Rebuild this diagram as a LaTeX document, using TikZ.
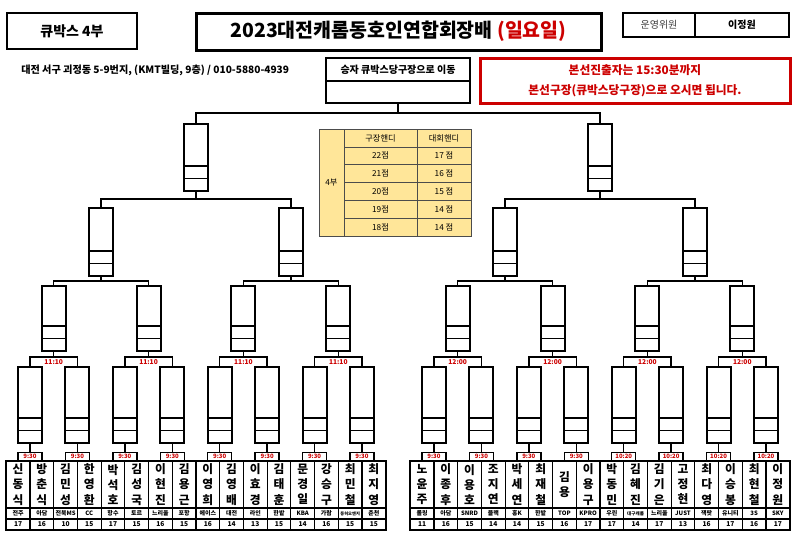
\documentclass[tikz,border=0pt]{standalone}
\usepackage{fontspec}
\setmainfont{Noto Sans CJK KR}
\definecolor{redc}{RGB}{204,0,0}
\definecolor{yel}{RGB}{255,230,153}
\newcommand\fs[2]{\fontsize{#1}{#2}\selectfont}
\newcommand\brk[4]{\draw[conn] (#1.south) -- ++(0,#4) coordinate (#1j) (#2.north) |- (#1j) -| (#3.north);}
\begin{document}
\begin{tikzpicture}[x=0.75pt,y=-0.75pt,
  conn/.style={line width=1.1pt},
  mbox/.style={draw,line width=1.5pt,fill=white,minimum width=18pt,inner sep=0pt,outer sep=0pt,
    path picture={\draw[line width=1.1pt] ([yshift=9.4pt]path picture bounding box.south west) -- ([yshift=9.4pt]path picture bounding box.south east) ([yshift=18.8pt]path picture bounding box.south west) -- ([yshift=18.8pt]path picture bounding box.south east);}},
  msf/.style={mbox,minimum height=50.25pt},
  mqf/.style={mbox,minimum height=51pt},
  m16/.style={mbox,minimum height=48.75pt},
  m32/.style={mbox,minimum height=57pt},
  tbox/.style={draw,line width=1pt,fill=white,minimum width=18pt,minimum height=6.4pt,inner sep=0pt,outer sep=0pt,text=redc,font=\bfseries\fs{4.5}{5}},
  ttxt/.style={text=redc,font=\bfseries\fs{5}{6},inner sep=0.5pt},
  cellbase/.style={draw,line width=0.8pt,minimum width=17.79pt,inner sep=0pt,outer sep=0pt,align=center},
  ncell/.style={cellbase,minimum height=35.25pt,font=\bfseries\fs{8.8}{11.4}},
  tcell/.style={cellbase,minimum height=8.25pt,font=\bfseries\fs{4.5}{5}},
  hcell/.style={cellbase,minimum height=8.25pt,font=\bfseries\fs{5}{6}},
  ycell/.style={draw=black!70,line width=0.5pt,fill=yel,inner sep=0pt,outer sep=0pt,font=\fs{6.2}{8}},
  hdr/.style={draw,inner sep=0pt,outer sep=0pt}
]
\useasboundingbox (0,0) rectangle (800,551);
% header
\node[hdr,line width=1.5pt,minimum width=97.5pt,minimum height=27pt,font=\bfseries\fs{10.5}{12}] (qb) at (72,31) {큐박스 4부};
\node[hdr,line width=2.25pt,minimum width=303.75pt,minimum height=27.75pt,font=\bfseries\fs{14.6}{16}] (title) at (398.5,31.5) {2023대전캐롬동호인연합회장배 \textcolor{redc}{(일요일)}};
\node[hdr,line width=1.1pt,minimum width=54pt,minimum height=18pt,font=\fs{7.5}{9},text=black!75] (ow) at (659,25) {운영위원};
\node[hdr,line width=1.1pt,minimum width=70.5pt,minimum height=18pt,font=\bfseries\fs{7.5}{9}] (owname) at (742,25) {이정원};
\node[anchor=west,inner sep=0pt,font=\bfseries\fs{7.6}{8}] (addr) at (21,70) {대전 서구 괴정동 5-9번지, (KMT빌딩, 9층) / 010-5880-4939};
\node[hdr,line width=1.1pt,minimum width=108pt,minimum height=17.25pt,font=\bfseries\fs{7.5}{9}] (win1) at (398,69.5) {승자 큐박스당구장으로 이동};
\node[hdr,line width=1.1pt,minimum width=108pt,minimum height=16.5pt] (win) at (398,92) {};
\node[hdr,draw=redc,line width=2.25pt,minimum width=232.5pt,minimum height=33.75pt,text=redc,font=\bfseries\fs{8.8}{15},align=center] (note) at (635,80.5) {본선진출자는 15:30분까지\\본선구장(큐박스당구장)으로 오시면 됩니다.};
% handicap table
\node[ycell,minimum width=18.75pt,minimum height=80.25pt] (y4) at (331.5,182.5) {4부};
\foreach \r/\a/\b in {0/구장핸디/대회핸디,1/22점/17 점,2/21점/16 점,3/20점/15 점,4/19점/14 점,5/18점/14 점}{
  \node[ycell,minimum width=54.75pt,minimum height=13.375pt] (ya\r) at (380.5,{129+17.83*(\r+0.5)}) {\a};
  \node[ycell,minimum width=40.5pt,minimum height=13.375pt] (yb\r) at (444,{129+17.83*(\r+0.5)}) {\b};
}
% bracket boxes
\foreach \h/\xo in {L/30,R/434}{
  \foreach \i in {0,...,7}{\node[m32] (a\h\i) at ({\xo+47.43*\i},405) {};}
  \foreach \i in {0,...,3}{\node[m16] (b\h\i) at ({\xo+47.43*(2*\i+0.5)},318.5) {};}
  \foreach \i in {0,1}{\node[mqf] (c\h\i) at ({\xo+47.43*(4*\i+1.5)},242) {};}
  \node[msf] (d\h) at ({\xo+47.43*3.5},157.5) {};
  \brk{d\h}{c\h0}{c\h1}{8}
  \brk{c\h0}{b\h0}{b\h1}{5}
  \brk{c\h1}{b\h2}{b\h3}{5}
  \foreach \i [evaluate=\i as \j using int(2*\i), evaluate=\i as \k using int(2*\i+1)] in {0,...,3}{
    \brk{b\h\i}{a\h\j}{a\h\k}{6}
  }
}
\draw[conn] (win.south) -- ++(0,10) coordinate (wj) (dL.north) |- (wj) -| (dR.north);
% time labels
\foreach \i in {0,...,7}{\node[tbox] (sL\i) at ({30+47.43*\i},456.8) {9:30}; \draw[conn] (aL\i.south) -- (sL\i.north);}
\foreach \i/\t in {0/9:30,1/9:30,2/9:30,3/9:30,4/10:20,5/10:20,6/10:20,7/10:20}{\node[tbox] (sR\i) at ({434+47.43*\i},456.8) {\t}; \draw[conn] (aR\i.south) -- (sR\i.north);}
\foreach \i in {0,...,3}{
  \node[ttxt] (uL\i) at ({30+47.43*(2*\i+0.5)},362) {11:10};
  \node[ttxt] (uR\i) at ({434+47.43*(2*\i+0.5)},362) {12:00};
}
% player table
\foreach \k/\nm/\tm/\hc in {0/신\\동\\식/전주/17,1/방\\춘\\식/아담/16,2/김\\민\\성/전북MS/10,3/한\\영\\환/CC/15,4/박\\석\\호/항수/17,5/김\\성\\국/토르/15,6/이\\현\\진/느리울/16,7/김\\용\\근/포항/15,8/이\\영\\희/에이스/16,9/김\\영\\배/대전/14,10/이\\효\\경/라인/13,11/김\\태\\훈/한밭/15,12/문\\경\\일/KBA/14,13/강\\승\\구/가람/16,14/최\\민\\철/{\fs{3.2}{4}동히오엔지}/15,15/최\\지\\영/춘천/15}{
  \node[ncell] (nL\k) at ({18.14+23.715*\k},484.5) {\nm};
  \node[tcell] (tL\k) at ({18.14+23.715*\k},513.5) {\tm};
  \node[hcell] (hL\k) at ({18.14+23.715*\k},524.5) {\hc};
}
\foreach \k/\nm/\tm/\hc in {0/노\\윤\\주/롤링/11,1/이\\종\\후/아담/16,2/이\\용\\호/SNRD/15,3/조\\지\\연/블랙/14,4/박\\세\\연/홍K/14,5/최\\재\\철/한밭/15,6/김\\용/TOP/16,7/이\\용\\구/KPRO/17,8/박\\동\\민/우린/17,9/김\\혜\\진/{\fs{3.4}{4}대구캐롬}/14,10/김\\기\\은/느리울/17,11/고\\정\\현/JUST/13,12/최\\다\\영/잭팟/16,13/이\\승\\봉/유니티/17,14/최\\현\\철/3S/16,15/이\\정\\원/SKY/17}{
  \node[ncell] (nR\k) at ({422.14+23.715*\k},484.5) {\nm};
  \node[tcell] (tR\k) at ({422.14+23.715*\k},513.5) {\tm};
  \node[hcell] (hR\k) at ({422.14+23.715*\k},524.5) {\hc};
}
\draw[line width=1.5pt] (nL0.north west) rectangle (hL15.south east);
\draw[line width=1.5pt] (nR0.north west) rectangle (hR15.south east);
\end{tikzpicture}
\end{document}
